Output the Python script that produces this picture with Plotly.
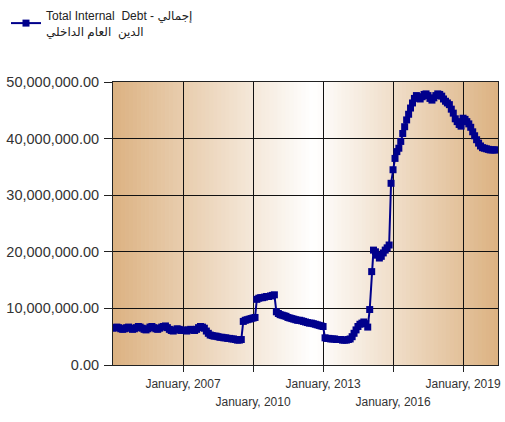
import pandas as pd
import plotly.graph_objects as go

# Total internal debt, monthly values in millions
debt_2004 = [6.5, 6.6, 6.7, 6.6, 6.4, 6.3, 6.4, 6.6, 6.7, 6.5, 6.3, 6.4]
debt_2005 = [6.6, 6.8, 6.7, 6.5, 6.3, 6.2, 6.4, 6.7, 6.8, 6.6, 6.4, 6.3]
debt_2006 = [6.5, 6.7, 6.8, 6.9, 6.6, 6.3, 6.1, 6.0, 6.2, 6.4, 6.3, 6.1]
debt_2007 = [6.2, 6.1, 6.0, 6.2, 6.3, 6.2, 6.1, 6.3, 6.6, 6.8, 6.7, 6.5]
debt_2008 = [6.0, 5.6, 5.3, 5.2, 5.1, 5.1, 5.0, 4.9, 4.9, 4.8, 4.8, 4.7]
debt_2009 = [4.7, 4.6, 4.6, 4.5, 4.4, 4.4, 4.5, 7.7, 7.9, 8.0, 8.1, 8.2]
debt_2010 = [8.3, 8.4, 11.6, 11.8, 11.9, 11.9, 12.0, 12.1, 12.1, 12.2, 12.3, 12.4]
debt_2011 = [9.4, 9.1, 8.9, 8.8, 8.7, 8.6, 8.4, 8.3, 8.2, 8.1, 8.0, 7.9]
debt_2012 = [7.9, 7.8, 7.7, 7.6, 7.5, 7.4, 7.4, 7.3, 7.2, 7.1, 7.0, 6.9]
debt_2013 = [6.8, 4.8, 4.7, 4.7, 4.6, 4.6, 4.6, 4.5, 4.5, 4.5, 4.4, 4.4]
debt_2014 = [4.4, 4.5, 4.6, 5.0, 5.6, 6.2, 6.8, 7.2, 7.4, 7.6, 7.3, 6.7]
debt_2015 = [9.8, 16.5, 20.3, 20.0, 19.4, 18.9, 19.2, 19.8, 20.3, 20.7, 21.2, 32.1]
debt_2016 = [34.5, 36.5, 37.7, 38.3, 39.5, 40.9, 42.1, 43.3, 44.3, 45.4, 46.3, 47.1]
debt_2017 = [47.6, 47.3, 47.0, 47.4, 47.8, 47.9, 47.6, 47.1, 46.8, 47.2, 47.6, 47.9]
debt_2018 = [47.8, 47.5, 47.0, 46.6, 46.3, 46.0, 45.2, 44.5, 43.5, 43.0, 42.5, 42.2]
debt_2019 = [43.6, 43.4, 43.0, 42.6, 42.0, 41.2, 40.5, 39.8, 39.2, 38.7, 38.4, 38.3]
debt_2020 = [38.2, 38.1, 38.0, 38.0, 38.0, 38.0]

first_month = "2004-01-01"
x_range = ["2004-01-01", "2020-07-01"]

tick_dates = ["2007-01-01", "2010-01-01", "2013-01-01", "2016-01-01", "2019-01-01"]
row1_labels = ["January, 2007", "", "January, 2013", "", "January, 2019"]
row2_dates = ["2010-01-01", "2016-01-01"]
row2_labels = ["January, 2010", "January, 2016"]

y_ticks = [0, 10e6, 20e6, 30e6, 40e6, 50e6]

series_name = "Total Internal  Debt - إجمالي<br>الدين  العام الداخلي"

years = [debt_2004, debt_2005, debt_2006, debt_2007, debt_2008, debt_2009,
         debt_2010, debt_2011, debt_2012, debt_2013, debt_2014, debt_2015,
         debt_2016, debt_2017, debt_2018, debt_2019, debt_2020]
values_m = [v for yr in years for v in yr]
values = [v * 1e6 for v in values_m]
dates = pd.date_range(first_month, periods=len(values), freq="MS")

NAVY = "#00008C"

fig = go.Figure()
fig.add_trace(go.Scatter(
    x=dates, y=values, mode="lines+markers", name=series_name,
    line=dict(color=NAVY, width=2),
    marker=dict(symbol="square", size=7, color=NAVY),
    showlegend=True,
))
# helper trace so the second (label-only) x axis is drawn
fig.add_trace(go.Scatter(x=[dates[0]], y=[None], xaxis="x2", showlegend=False,
                         hoverinfo="skip", mode="markers"))

# horizontal gradient background: tan at the edges, white near the middle
shapes = []
N = 96
center = 0.52
edge = (220, 178, 130)
for i in range(N):
    t0, t1 = i / N, (i + 1) / N
    tm = (t0 + t1) / 2
    d = (center - tm) / center if tm < center else (tm - center) / (1 - center)
    d = max(0.0, min(1.0, d))
    c = tuple(round(255 + (e - 255) * d) for e in edge)
    shapes.append(dict(type="rect", xref="paper", yref="paper", x0=t0, x1=t1 + 0.002,
                       y0=0, y1=1, fillcolor="rgb(%d,%d,%d)" % c, line=dict(width=0),
                       layer="below"))

axis_font = dict(family="Liberation Sans, Arial, sans-serif", size=12, color="#333")

W, H = 505, 422
L, R, T, B = 113, 7, 82, 57
PW, PH = W - L - R, H - T - B
fig.update_layout(
    width=W, height=H,
    margin=dict(l=L, r=R, t=T, b=B, autoexpand=False),
    paper_bgcolor="white", plot_bgcolor="white",
    shapes=shapes,
    showlegend=True,
    legend=dict(x=(6 - L) / PW, y=1 + (T - 1) / PH, xref="paper", yref="paper",
                xanchor="left", yanchor="top", bgcolor="rgba(0,0,0,0)",
                font=dict(family="Liberation Sans, DejaVu Sans, sans-serif", size=12, color="#222")),
    xaxis=dict(type="date", range=x_range, tickvals=tick_dates, ticktext=row1_labels,
               showgrid=True, gridcolor="#111", gridwidth=1,
               ticks="outside", ticklen=6, tickcolor="#222", tickangle=0,
               showline=True, linecolor="#222", mirror=True, automargin=False,
               tickfont=axis_font, ticklabelstandoff=2, ticklabeloverflow="allow"),
    xaxis2=dict(type="date", overlaying="x", matches="x", anchor="y", side="bottom",
                range=x_range, tickvals=row2_dates, ticktext=row2_labels, tickangle=0,
                showgrid=False, showline=False, ticks="", tickfont=axis_font,
                automargin=False, ticklabelstandoff=28),
    yaxis=dict(range=[0, 50e6], tickvals=y_ticks, tickformat=",.2f",
               showgrid=True, gridcolor="#111", gridwidth=1, zeroline=False,
               ticks="outside", ticklen=8, tickcolor="#222", automargin=False,
               showline=True, linecolor="#222", mirror=True,
               tickfont=dict(family="Liberation Sans, Arial, sans-serif", size=14.5, color="#333"),
               ticklabelstandoff=2),
)

# remove the default page margin so the figure fills the window exactly
fig.write_html("out.html", config={"displayModeBar": False},
               post_script="document.body.style.margin='0';document.body.style.overflow='hidden';")
